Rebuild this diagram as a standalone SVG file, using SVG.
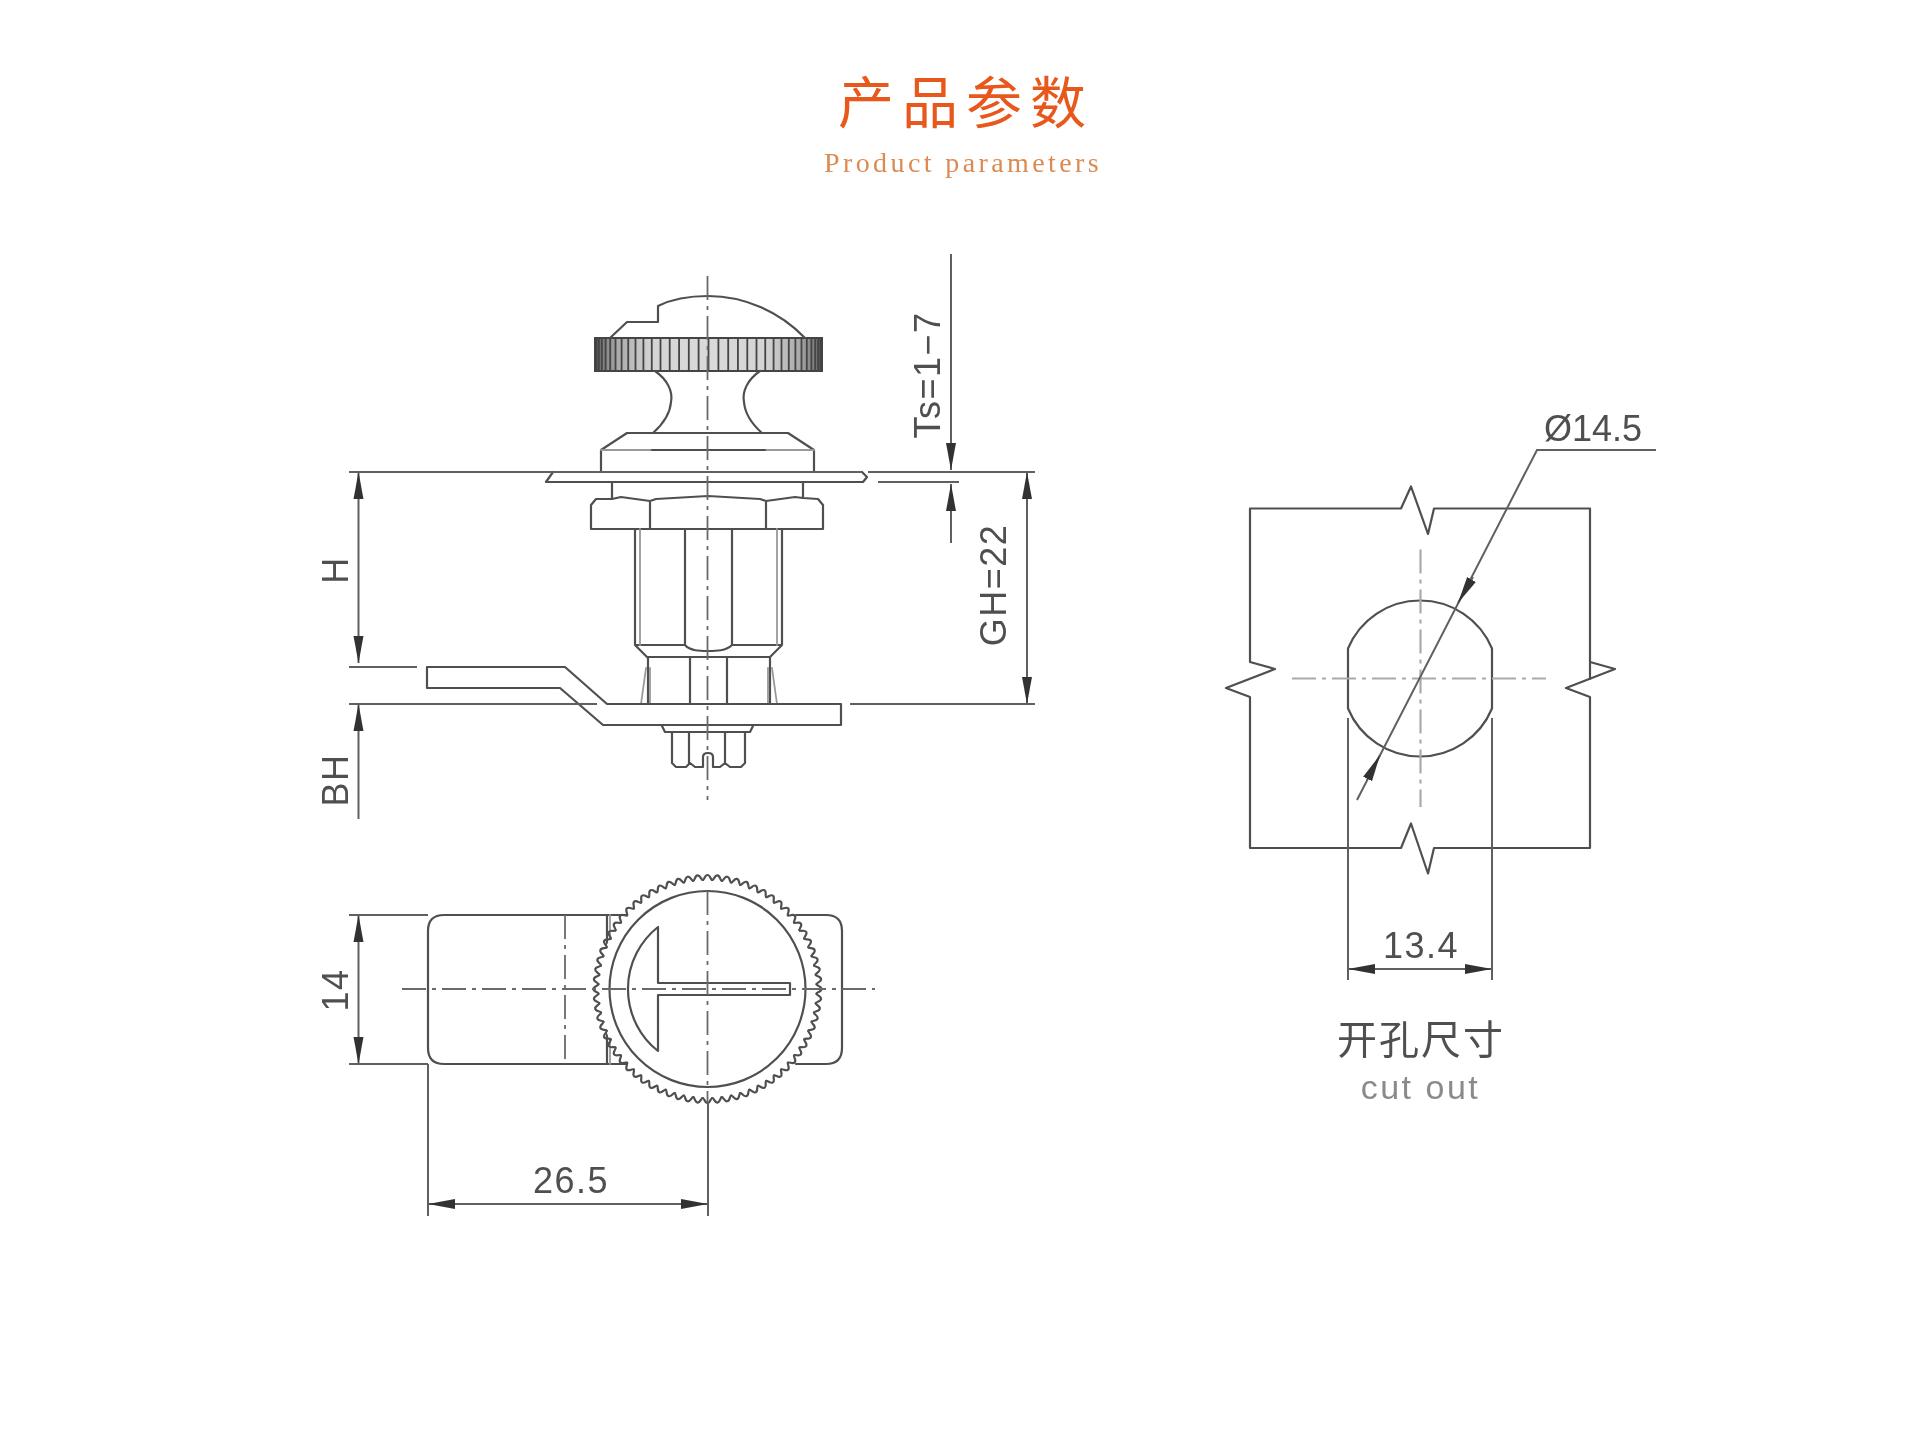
<svg xmlns="http://www.w3.org/2000/svg" width="1920" height="1440" viewBox="0 0 1920 1440">
<style>
.l{fill:none;stroke:#505050;stroke-width:2.2;stroke-linejoin:round;stroke-linecap:round}
.t{stroke:#999;stroke-width:1.8}
.d{fill:none;stroke:#606060;stroke-width:2}
.ar{marker-start:url(#a);marker-end:url(#a)}
.as{marker-start:url(#a)}
.ae{marker-end:url(#a)}
.c{fill:none;stroke:#6a6a6a;stroke-width:1.8;stroke-dasharray:24 6 4 6}
.cg{fill:none;stroke:#aaa;stroke-width:2.2;stroke-dasharray:24 6 4 6}
.x{font-family:"Liberation Sans",Arial,sans-serif;fill:#505050;font-size:36px;letter-spacing:1.5px}
.cn{font-family:"Noto Sans CJK SC",sans-serif}
.soft{filter:url(#s)}
</style>
<defs>
<filter id="s" x="-5%" y="-5%" width="110%" height="110%"><feGaussianBlur stdDeviation="0.7"/></filter>
<marker id="a" markerUnits="userSpaceOnUse" markerWidth="28" markerHeight="12" refX="27" refY="6" orient="auto-start-reverse" viewBox="0 0 28 12"><path d="M0,1 L27,6 L0,11 Z" fill="#333"/></marker>
<linearGradient id="kn" x1="0" x2="1" y1="0" y2="0">
<stop offset="0" stop-color="#666"/><stop offset=".1" stop-color="#aaa"/><stop offset=".25" stop-color="#d4d4d4"/><stop offset=".5" stop-color="#dadada"/><stop offset=".75" stop-color="#d4d4d4"/><stop offset=".9" stop-color="#aaa"/><stop offset="1" stop-color="#666"/>
</linearGradient>
<path id="t1" d="M-4.9,-109 C-3,-109 -3,-114 0,-114 C3,-114 3,-109 4.9,-109" class="l"/>
<g id="t6"><use href="#t1"/><use href="#t1" transform="rotate(5)"/><use href="#t1" transform="rotate(10)"/><use href="#t1" transform="rotate(15)"/><use href="#t1" transform="rotate(20)"/><use href="#t1" transform="rotate(25)"/></g>
</defs>
<rect width="1920" height="1440" fill="#fff"/>
<g id="title" class="soft">
<text class="cn" x="838" y="123" font-size="56" letter-spacing="8" fill="#e8591a">产品参数</text>
<text x="824" y="172" font-family="'Liberation Serif',serif" font-size="28" letter-spacing="3.4" fill="#dc8a52">Product parameters</text>
</g>
<g id="side-view" class="soft">
<rect x="595" y="338" width="227" height="33" fill="url(#kn)" stroke="#444" stroke-width="2"/>
<path fill="none" stroke="#444" stroke-width="1.8" d="M708.500,338V371M718.400,338V371M728.200,338V371M737.900,338V371M747.300,338V371M756.500,338V371M765.250,338V371M773.600,338V371M781.500,338V371M788.800,338V371M795.400,338V371M801.500,338V371M806.800,338V371M811.400,338V371M815.200,338V371M818.100,338V371M820.300,338V371M698.600,338V371M688.800,338V371M679.100,338V371M669.700,338V371M660.500,338V371M651.750,338V371M643.400,338V371M635.500,338V371M628.200,338V371M621.600,338V371M615.500,338V371M610.200,338V371M605.600,338V371M601.800,338V371M598.900,338V371M596.700,338V371"/>
<path class="l" d="M610,338 L627,322 H658 V306 C672,299 690,296 708,296 C745,296 780,312 805,338"/>
<path class="l" d="M655,371 C668,380 673,392 671,402 C670,415 662,425 653,433"/>
<path class="l" d="M760,371 C747,380 742,392 744,402 C745,415 753,425 762,433"/>
<path class="l" d="M601,472 V450 L627,433 H788 L814,450 V472"/>
<path class="l t" d="M601,450 H814"/>
<path class="l" d="M652,450 H765"/>
<path class="l" d="M553,472 L546,482 H863 L867,477 L862,472"/>
<path class="l" d="M612,482 V498 M803,482 V498"/>
<path class="l" d="M591,505 L596,499 L612,499 L621,497 L650,501 L656,499 L708,496 L760,499 L766,501 L795,497 L803,498 L818,499 L823,505 V529 H591 Z M650,501 V529 M766,501 V529"/>
<path class="l" d="M635,529 V645 L647,657 H770 L782,645 V529 M635,645 H685 C690,651 700,651 708,651 C716,651 726,651 732,645 H782 M685,529 V645 M732,529 V645"/>
<path class="l t" d="M640,529 V645 M777,529 V645"/>
<path class="l" d="M648,657 V704 M770,657 V704 M690,657 V704 M727,657 V704"/>
<path class="l t" d="M646,668 L641,704 M650,668 V704 M768,668 V704 M772,668 L777,704"/>
<path class="l" d="M427,667 H565 L607,704 H841 V725 H603 L560,688 H427 Z"/>
<path class="l" d="M662,726 L665,732 H750 L753,726"/>
<path class="l" d="M672,732 V763 L676,767 H686 L690,763 L695,767 H703 V757 Q703,753 708,753 Q713,753 713,757 V767 H720 L725,763 L730,767 H741 L745,763 V732 M689,732 V763 M725,732 V763"/>
<line class="c" x1="707.500" y1="276" x2="707.500" y2="800"/>
</g>
<g id="plan-view" class="soft">
<path class="l" d="M627,915 H444 Q428,915 428,931 V1048 Q428,1064 444,1064 H627"/>
<path class="l" d="M796,915 H826 Q842,915 842,931 V1048 Q842,1064 826,1064 H796"/>
<path class="l" d="M607,915 V1064"/>
<path class="l t" d="M610,915 V1064"/>
<line class="c" x1="565" y1="915" x2="565" y2="1064"/>
<circle cx="707.500" cy="989" r="110" fill="#fff"/>
<g transform="translate(707.500,989)">
<use href="#t6"/><use href="#t6" transform="rotate(30)"/><use href="#t6" transform="rotate(60)"/><use href="#t6" transform="rotate(90)"/><use href="#t6" transform="rotate(120)"/><use href="#t6" transform="rotate(150)"/><use href="#t6" transform="rotate(180)"/><use href="#t6" transform="rotate(210)"/><use href="#t6" transform="rotate(240)"/><use href="#t6" transform="rotate(270)"/><use href="#t6" transform="rotate(300)"/><use href="#t6" transform="rotate(330)"/>
</g>
<circle class="l" cx="707.500" cy="989" r="98"/>
<path class="l" d="M658,927 V983 H790 V995 H658 V1051 A79,79 0 0 1 658,927 Z"/>
<line class="c" x1="402" y1="989" x2="875" y2="989"/>
<line class="c" x1="707.500" y1="891" x2="707.500" y2="1102"/>
</g>
<g id="cutout-view" class="soft">
<path class="l" d="M1401,508.500 L1411,486.500 L1428,534 L1434,508.500 H1590 V662 L1615,669 L1566,688 L1590,697 V848 H1434 L1428,873.500 L1411,823.500 L1401,848 H1250 V697 L1226,688 L1275,669 L1250,662 V508.500 Z"/>
<path class="l" d="M1590,662 V679"/>
<path class="l" d="M1348,708.500 V648.500 A78,78 0 0 1 1492,648.500 V708.500 A78,78 0 0 1 1348,708.500 Z"/>
<line class="cg" x1="1420.500" y1="549.500" x2="1420.500" y2="807"/>
<line class="cg" x1="1292" y1="678.500" x2="1546" y2="678.500"/>
</g>
<g id="connectors" class="soft">
<path class="d" d="M349,472 H862 M868,472 H1035 M878,482 H959 M349,667 H417 M349,704 H597 M850,704 H1035"/>
<line class="d ar" x1="358.500" y1="472" x2="358.500" y2="663"/>
<line class="d as" x1="358.500" y1="704" x2="358.500" y2="819"/>
<line class="d ae" x1="951" y1="254" x2="951" y2="470"/>
<line class="d as" x1="951" y1="484" x2="951" y2="543"/>
<line class="d ar" x1="1027" y1="472" x2="1027" y2="704"/>
<path class="d" d="M349,915 H428 M349,1064 H428 M428,1064 V1216 M708,1102 V1216"/>
<line class="d ar" x1="358.500" y1="915" x2="358.500" y2="1064"/>
<line class="d ar" x1="428" y1="1204" x2="708" y2="1204"/>
<path class="d" d="M1656,450 H1537 L1357,800 M1348,718 V980 M1492,718 V980"/>
<line class="d ae" x1="1473" y1="577" x2="1458" y2="603"/>
<line class="d ae" x1="1367" y1="780" x2="1380" y2="755"/>
<line class="d ar" x1="1348" y1="969" x2="1492" y2="969"/>
</g>
<g id="labels" class="soft">
<text class="x" transform="translate(940,375) rotate(-90)" text-anchor="middle">Ts=1−7</text>
<text class="x" transform="translate(348,570) rotate(-90)" text-anchor="middle">H</text>
<text class="x" transform="translate(348,780) rotate(-90)" text-anchor="middle">BH</text>
<text class="x" transform="translate(1006,585) rotate(-90)" text-anchor="middle">GH=22</text>
<text class="x" transform="translate(348,990) rotate(-90)" text-anchor="middle">14</text>
<text class="x" x="571" y="1193" text-anchor="middle">26.5</text>
<text class="x" x="1421" y="958" text-anchor="middle">13.4</text>
<text class="x" x="1544" y="441" style="letter-spacing:0">Ø14.5</text>
<text class="cn" x="1421" y="1054" text-anchor="middle" font-size="40" letter-spacing="2" style="fill:#505050">开孔尺寸</text>
<text class="x" x="1420.500" y="1099" text-anchor="middle" style="fill:#8a8a8a;font-size:34px;letter-spacing:2.5px">cut out</text>
</g>
</svg>
